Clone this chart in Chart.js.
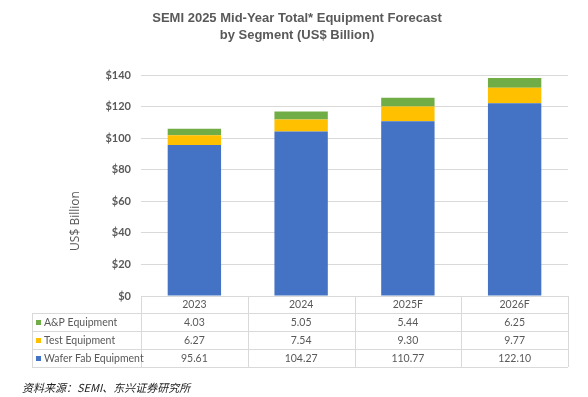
<!DOCTYPE html>
<html>
<head>
<meta charset="utf-8">
<script src="https://cdn.jsdelivr.net/npm/chart.js@4/dist/chart.umd.min.js"></script>
<style>
  html, body { margin: 0; padding: 0; background: #fff; }
  #wrap { width: 588px; height: 397px; position: relative; }
</style>
</head>
<body>
<div id="wrap"><canvas id="chart"></canvas></div>
<script>
// --- DATA ---
const categories = ['2023', '2024', '2025F', '2026F'];
const apEquipment = [4.03, 5.05, 5.44, 6.25];
const testEquipment = [6.27, 7.54, 9.30, 9.77];
const waferFab = [95.61, 104.27, 110.77, 122.10];
const yMin = 0, yMax = 140, yStep = 20;

const titleLines = ['SEMI 2025 Mid-Year Total* Equipment Forecast', 'by Segment (US$ Billion)'];
const yTitle = 'US$ Billion';
const sourceNote = '资料来源：SEMI、东兴证券研究所';

// table rows, top to bottom as in the picture
const tableRows = [
    { label: 'A&P Equipment', values: apEquipment, color: '#70AD47' },
    { label: 'Test Equipment', values: testEquipment, color: '#FFC000' },
    { label: 'Wafer Fab Equipment', values: waferFab, color: '#4472C4' }
];

const grey = '#595959';
const lineGrey = '#d9d9d9';
const bodyFont = "'Lato', 'Open Sans', sans-serif";

// --- TITLE, DATA TABLE, AXIS TITLE, SOURCE ---
const tablePlugin = {
    id: 'dataTable',
    afterDraw(chart) {
        const { ctx, chartArea } = chart;
        const x = chart.scales.x;
        const colW = (chartArea.right - chartArea.left) / categories.length;
        const top = chartArea.bottom;
        const headH = 17, rowH = 18;
        const tableLeft = 32;
        const bottom = top + headH + rowH * tableRows.length;

        ctx.save();
        // title
        ctx.fillStyle = grey;
        ctx.font = "bold 13px 'Liberation Sans', Arial, sans-serif";
        ctx.textAlign = 'center';
        ctx.textBaseline = 'middle';
        ctx.fillText(titleLines[0], 297, 18);
        ctx.fillText(titleLines[1], 297, 35);

        ctx.strokeStyle = lineGrey;
        ctx.lineWidth = 1;
        ctx.beginPath();
        // horizontal lines
        ctx.moveTo(chartArea.left, top + 0.5);
        ctx.lineTo(chartArea.right, top + 0.5);
        for (let r = 0; r <= tableRows.length; r++) {
            const y = Math.round(top + headH + r * rowH) + 0.5;
            ctx.moveTo(tableLeft, y);
            ctx.lineTo(chartArea.right, y);
        }
        // vertical lines
        ctx.moveTo(tableLeft + 0.5, top + headH);
        ctx.lineTo(tableLeft + 0.5, bottom);
        for (let c = 0; c <= categories.length; c++) {
            const xx = Math.round(chartArea.left + c * colW) + 0.5;
            ctx.moveTo(xx, top);
            ctx.lineTo(xx, bottom);
        }
        ctx.stroke();

        ctx.fillStyle = grey;
        ctx.font = "10.5px " + bodyFont;
        ctx.textAlign = 'center';
        categories.forEach((cat, i) => {
            ctx.fillText(cat, x.getPixelForValue(i), top + headH / 2 + 0.5);
        });
        tableRows.forEach((row, r) => {
            const cy = top + headH + r * rowH + rowH / 2 + 0.5;
            ctx.fillStyle = row.color;
            ctx.fillRect(36, cy - 2.5, 5, 5);
            ctx.fillStyle = grey;
            ctx.textAlign = 'left';
            ctx.fillText(row.label, 44, cy);
            ctx.textAlign = 'center';
            row.values.forEach((v, i) => {
                ctx.fillText(v.toFixed(2), x.getPixelForValue(i), cy);
            });
        });

        // y axis title, centred on chart + table
        ctx.save();
        ctx.translate(76, (chartArea.top + bottom) / 2);
        ctx.rotate(-Math.PI / 2);
        ctx.font = "12px 'Open Sans', sans-serif";
        ctx.textAlign = 'center';
        ctx.fillText(yTitle, 0, 0);
        ctx.restore();

        // source note
        ctx.fillStyle = '#222';
        ctx.font = "italic 11px 'Noto Sans CJK SC', sans-serif";
        ctx.textAlign = 'left';
        ctx.fillText(sourceNote, 22, 388);
        ctx.restore();
    }
};

new Chart(document.getElementById('chart'), {
    type: 'bar',
    data: {
        labels: categories,
        datasets: [
            { label: 'Wafer Fab Equipment', data: waferFab, backgroundColor: '#4472C4' },
            { label: 'Test Equipment', data: testEquipment, backgroundColor: '#FFC000' },
            { label: 'A&P Equipment', data: apEquipment, backgroundColor: '#70AD47' }
        ]
    },
    options: {
        responsive: true, maintainAspectRatio: false,
        animation: false,
        layout: { padding: { top: 75, right: 20, bottom: 101, left: 0 } },
        datasets: { bar: { categoryPercentage: 1, barPercentage: 0.5 } },
        plugins: {
            legend: { display: false },
            tooltip: { enabled: false },
            title: { display: false }
        },
        scales: {
            x: { stacked: true, display: false },
            y: {
                stacked: true,
                min: yMin, max: yMax,
                afterFit(scale) { scale.width = 141; },
                border: { display: false },
                grid: { color: lineGrey, drawTicks: false },
                ticks: {
                    stepSize: yStep,
                    padding: 10,
                    color: grey,
                    font: { family: bodyFont, size: 11, weight: 'bold' },
                    callback: v => '$' + v
                }
            }
        }
    },
    plugins: [tablePlugin]
});
</script>
</body>
</html>
